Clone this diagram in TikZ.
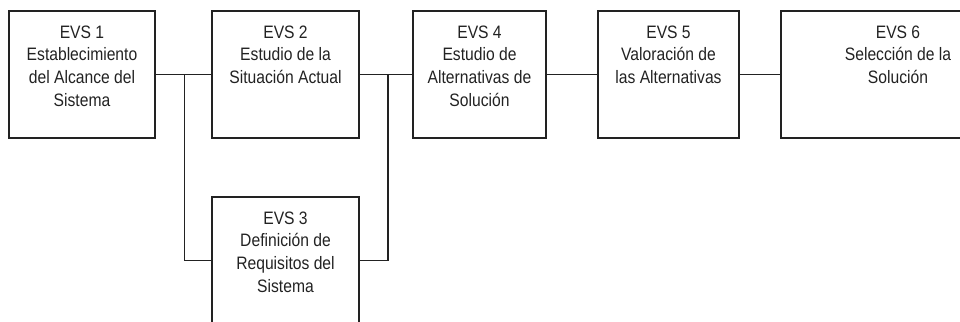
\documentclass[tikz,border=0pt]{standalone}
\usepackage{fontspec}
\setmainfont{Liberation Sans}[FakeStretch=0.87]
\usepackage{tikz}
\definecolor{tinta}{HTML}{222222}
\tikzset{
  fase/.style={draw=tinta, line width=1.2pt, minimum height=127pt, inner sep=0pt},
  rotulo/.style={anchor=north, inner sep=0pt, align=center, text=tinta,
                 font=\fontsize{18}{22.7}\selectfont},
  enlace/.style={draw=tinta, line width=1.2pt}
}

\begin{document}
\begin{tikzpicture}[x = 1pt, y = -1pt]
\useasboundingbox (0,0) rectangle (960,321);
\clip (0,0) rectangle (960,321);
% Phases
    \node[fase, minimum width=146pt] (evs1) at (82,74.5)    {};
    \node[fase, minimum width=147pt] (evs2) at (285.5,74.5) {};
    \node[fase, minimum width=147pt] (evs3) at (285.5,260.5) {};
    \node[fase, minimum width=133pt] (evs4) at (479.5,74.5) {};
    \node[fase, minimum width=141pt] (evs5) at (668.5,74.5) {};
    \node[fase, minimum width=234pt] (evs6) at (898,74.5)   {};
% Texts
    \node[rotulo] (txt1) at ([yshift=-15pt]evs1.north) {EVS 1\\Establecimiento\\del Alcance del\\Sistema};
    \node[rotulo] (txt2) at ([yshift=-15pt]evs2.north) {EVS 2\\Estudio de la\\Situación Actual};
    \node[rotulo] (txt3) at ([yshift=-15pt]evs3.north) {EVS 3\\Definición de\\Requisitos del\\Sistema};
    \node[rotulo] (txt4) at ([yshift=-15pt]evs4.north) {EVS 4\\Estudio de\\Alternativas de\\Solución};
    \node[rotulo] (txt5) at ([yshift=-15pt]evs5.north) {EVS 5\\Valoración de\\las Alternativas};
    \node[rotulo] (txt6) at ([yshift=-15pt]evs6.north) {EVS 6\\Selección de la\\Solución};
% Junctions
    \coordinate (j1) at (184.5,74.5);
    \coordinate (j2) at (388,74.5);
% Connections
    \draw[enlace] (evs1.east) -- (evs2.west);
    \draw[enlace] (j1) |- (evs3.west);
    \draw[enlace] (evs2.east) -- (evs4.west);
    \draw[enlace] (j2) |- (evs3.east);
    \draw[enlace] (evs4.east) -- (evs5.west);
    \draw[enlace] (evs5.east) -- (evs6.west);
\end{tikzpicture}
\end{document}
